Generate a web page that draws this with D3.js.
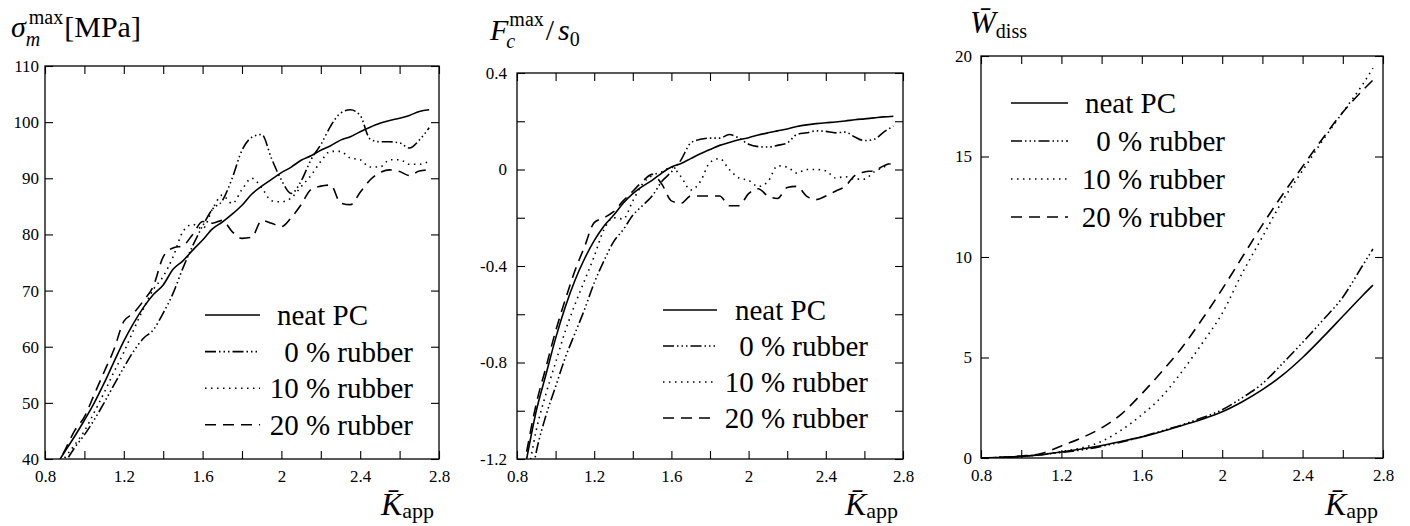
<!DOCTYPE html>
<html>
<head>
<meta charset="utf-8">
<script src="https://cdn.jsdelivr.net/npm/d3@7"></script>
<style>
  body { margin: 0; background: #fff; }
</style>
</head>
<body>
<svg id="chart" width="1410" height="526"></svg>
<script>
// ---- data ----
const seriesNames = ["neat PC", "0 % rubber", "10 % rubber", "20 % rubber"];

const kApp = [0.85, 0.90, 0.95, 1.00, 1.05, 1.10, 1.15, 1.20, 1.25, 1.30, 1.35, 1.40, 1.45,
  1.50, 1.55, 1.60, 1.65, 1.70, 1.75, 1.80, 1.85, 1.90, 1.95, 2.00, 2.05, 2.10, 2.15,
  2.20, 2.25, 2.30, 2.35, 2.40, 2.45, 2.50, 2.55, 2.60, 2.65, 2.70, 2.75];

// sigma_m^max [MPa]
const sigmaNeat = [38.5, 41.3, 44, 46.9, 50, 53.5, 57.3, 61, 64.2, 67, 69.3, 71, 73.8,
  75.3, 77.2, 79, 81, 82.2, 83.6, 85.2, 87.2, 88.6, 89.8, 91, 92, 93.2, 94,
  95, 95.8, 96.8, 97.4, 98.3, 99.1, 99.8, 100.3, 100.7, 101.2, 101.9, 102.2];
const sigma0 = [36, 39.2, 42, 44.3, 47, 50, 53.2, 56.3, 59.2, 61.5, 63, 66, 69.5,
  74, 78, 81.5, 84.5, 86, 90, 95, 97.3, 97.8, 93.5, 89.7, 87.3, 89.5, 93.3,
  96, 99.3, 101.6, 102.2, 101.2, 97, 96.5, 96.5, 96.3, 95.4, 96.8, 99];
const sigma10 = [37.5, 40.2, 42.5, 45, 48.3, 51.8, 55.5, 59, 63, 66.8, 70.2, 72.5, 76,
  80.5, 81.8, 81, 84.5, 87, 85.5, 88, 90, 88.3, 86, 85.8, 86.5, 88.5, 90.5,
  93, 94.8, 94.8, 93.6, 93.3, 92, 92, 93.3, 93.3, 92.5, 92.5, 93];
const sigma20 = [38, 41.5, 45, 47.5, 51.5, 55.5, 59.5, 64.5, 66, 68.2, 70.8, 76, 77.6,
  78, 80, 82.3, 82, 82.5, 80.5, 79.3, 79.5, 82.5, 82, 81.4, 83, 85.3, 88,
  88.6, 88.8, 85.6, 85.3, 87.5, 89.7, 91, 91.5, 91.2, 90.5, 91.3, 91.5];

// F_c^max / s_0
const forceNeat = [-1.2, -1.0, -0.85, -0.7, -0.57, -0.46, -0.37, -0.295, -0.235, -0.19, -0.14, -0.1, -0.07,
  -0.045, -0.015, 0.01, 0.025, 0.045, 0.065, 0.083, 0.1, 0.112, 0.123, 0.132, 0.143, 0.152, 0.16,
  0.168, 0.178, 0.185, 0.19, 0.194, 0.197, 0.201, 0.206, 0.21, 0.214, 0.218, 0.221];
const force0 = [-1.4, -1.17, -1.02, -0.9, -0.78, -0.68, -0.58, -0.47, -0.38, -0.3, -0.25, -0.19, -0.15,
  -0.11, -0.05, -0.01, 0.04, 0.11, 0.125, 0.13, 0.13, 0.145, 0.13, 0.105, 0.095, 0.093, 0.1,
  0.11, 0.145, 0.152, 0.16, 0.158, 0.152, 0.155, 0.135, 0.12, 0.125, 0.155, 0.18];
const force10 = [-1.3, -1.08, -0.93, -0.8, -0.67, -0.56, -0.46, -0.36, -0.25, -0.2, -0.205, -0.13, -0.06,
  -0.025, -0.01, 0.01, -0.03, -0.085, -0.05, 0.03, 0.045, 0.0, -0.035, -0.045, -0.07, -0.05, 0.015,
  0.01, -0.015, 0.0, 0.0, -0.005, -0.035, -0.03, -0.04, -0.04, -0.01, 0.01, 0.03];
const force20 = [-1.17, -0.97, -0.82, -0.67, -0.54, -0.42, -0.32, -0.22, -0.2, -0.175, -0.13, -0.09, -0.05,
  -0.02, -0.06, -0.13, -0.14, -0.11, -0.11, -0.11, -0.11, -0.15, -0.15, -0.1, -0.08, -0.11, -0.12,
  -0.075, -0.07, -0.11, -0.125, -0.11, -0.09, -0.07, -0.025, -0.01, -0.005, 0.015, 0.03];

// W_diss
const kAppW = [0.8, 0.9, 1.0, 1.1, 1.2, 1.3, 1.4, 1.5, 1.6, 1.7, 1.8, 1.9, 2.0, 2.1, 2.2,
  2.3, 2.4, 2.5, 2.6, 2.7, 2.75];
const wNeat = [0, 0.03, 0.08, 0.17, 0.3, 0.45, 0.62, 0.83, 1.05, 1.32, 1.62, 1.93, 2.3, 2.8, 3.4,
  4.12, 5.0, 6.0, 7.05, 8.1, 8.6];
const w0 = [0, 0.03, 0.08, 0.16, 0.28, 0.4, 0.58, 0.8, 1.05, 1.35, 1.65, 2.0, 2.4, 3.0, 3.7,
  4.7, 5.75, 6.85, 8.0, 9.6, 10.4];
const w10 = [0, 0.03, 0.08, 0.17, 0.32, 0.5, 0.83, 1.4, 2.15, 3.06, 4.3, 5.7, 7.2, 9.2, 11.0,
  12.8, 14.3, 15.8, 17.2, 18.6, 19.4];
const w20 = [0, 0.03, 0.1, 0.22, 0.6, 1.0, 1.5, 2.2, 3.2, 4.3, 5.5, 6.9, 8.4, 10.0, 11.6,
  13.1, 14.5, 15.9, 17.2, 18.3, 18.8];

// ticks
const xTicks = [0.8, 1.0, 1.2, 1.4, 1.6, 1.8, 2.0, 2.2, 2.4, 2.6, 2.8];
const xTickLabels = ["0.8", "", "1.2", "", "1.6", "", "2", "", "2.4", "", "2.8"];
const sigmaTicks = [40, 50, 60, 70, 80, 90, 100, 110];
const sigmaTickLabels = ["40", "50", "60", "70", "80", "90", "100", "110"];
const forceTicks = [-1.2, -1.0, -0.8, -0.6, -0.4, -0.2, 0, 0.2, 0.4];
const forceTickLabels = ["-1.2", "", "-0.8", "", "-0.4", "", "0", "", "0.4"];
const wTicks = [0, 5, 10, 15, 20];
const wTickLabels = ["0", "5", "10", "15", "20"];

// ---- font: first serif face that is really installed ----
function pickFont(list) {
  const ctx = document.createElement("canvas").getContext("2d");
  const sample = "neat PC 10 % rubber WKmMx";
  const bases = ["monospace", "sans-serif"];
  const w = f => { ctx.font = "40px " + f; return ctx.measureText(sample).width; };
  for (const name of list) {
    if (bases.some(b => w(`"${name}", ${b}`) !== w(b))) return name;
  }
  return null;
}
const serifFace = pickFont(["Liberation Serif", "Times New Roman", "Tinos", "Nimbus Roman",
  "FreeSerif", "DejaVu Serif", "Noto Serif"]);
const fontStack = (serifFace ? `"${serifFace}", ` : "") + "serif";

// ---- drawing ----
const svg = d3.select("#chart").style("font-family", fontStack);
const dashes = ["none", "11,3,1.5,3,1.5,3,1.5,3", "1.5,4.5", "11,7"];

// math-like labels: each part is placed at x, or right after an earlier part
function addText(g, parts) {
  const nodes = [];
  parts.forEach(p => {
    const t = g.append("text")
      .attr("y", p.y)
      .style("font-family", fontStack)
      .style("font-size", p.size + "px")
      .style("font-style", p.italic ? "italic" : "normal")
      .text(p.t);
    let x = p.x;
    if (p.after !== undefined) {
      const prev = nodes[p.after];
      x = prev.x + prev.node.getComputedTextLength() + (p.dx || 0);
    }
    t.attr("x", x);
    nodes.push({ x, node: t.node() });
  });
}

function drawPanel(p) {
  const x = d3.scaleLinear().domain([0.8, 2.8]).range([p.left, p.right]);
  const y = d3.scaleLinear().domain(p.yDomain).range([p.bottom, p.top]);
  const g = svg.append("g");

  const clipId = "clip" + p.id;
  svg.append("clipPath").attr("id", clipId)
    .append("rect")
    .attr("x", p.left).attr("y", p.top)
    .attr("width", p.right - p.left).attr("height", p.bottom - p.top);

  const line = d3.line()
    .x((d, i) => x(p.xs[i]))
    .y(d => y(d))
    .curve(d3.curveMonotoneX);

  g.selectAll("path.curve")
    .data(p.series)
    .join("path")
    .attr("class", "curve")
    .attr("clip-path", `url(#${clipId})`)
    .attr("d", d => line(d))
    .attr("fill", "none")
    .attr("stroke", "#000")
    .attr("stroke-width", 1.6)
    .attr("stroke-dasharray", (d, i) => dashes[i]);

  // axes, ticks pointing inward
  const styleAxis = sel => {
    sel.attr("font-family", fontStack).attr("font-size", 17);
    sel.select(".domain").remove();
    sel.selectAll("line").attr("stroke", "#000").attr("stroke-width", 1.1);
    sel.selectAll("text").attr("fill", "#000");
  };

  g.append("g").attr("transform", `translate(0,${p.bottom})`)
    .call(d3.axisBottom(x).tickValues(xTicks).tickSize(-8).tickPadding(11)
      .tickFormat((d, i) => xTickLabels[i]))
    .call(styleAxis);
  g.append("g").attr("transform", `translate(0,${p.top})`)
    .call(d3.axisTop(x).tickValues(xTicks).tickSize(-8).tickFormat(""))
    .call(styleAxis);
  g.append("g").attr("transform", `translate(${p.left},0)`)
    .call(d3.axisLeft(y).tickValues(p.yTicks).tickSize(-8).tickPadding(p.pad)
      .tickFormat((d, i) => p.yLabels[i]))
    .call(styleAxis);
  g.append("g").attr("transform", `translate(${p.right},0)`)
    .call(d3.axisRight(y).tickValues(p.yTicks).tickSize(-8).tickFormat(""))
    .call(styleAxis);

  g.append("rect")
    .attr("x", p.left).attr("y", p.top)
    .attr("width", p.right - p.left).attr("height", p.bottom - p.top)
    .attr("fill", "none").attr("stroke", "#000").attr("stroke-width", 1.3);

  // legend
  const leg = g.append("g");
  seriesNames.forEach((name, i) => {
    const ly = p.legY + i * p.legStep;
    leg.append("line")
      .attr("x1", p.legX0).attr("x2", p.legX1)
      .attr("y1", ly).attr("y2", ly)
      .attr("stroke", "#000").attr("stroke-width", 1.6)
      .attr("stroke-dasharray", dashes[i]);
    leg.append("text")
      .attr("x", i === 0 ? p.legNeatX : p.legEndX)
      .attr("y", ly + 10)
      .attr("text-anchor", i === 0 ? "start" : "end")
      .style("font-family", fontStack)
      .style("font-size", "29px")
      .text(name);
  });

  // titles
  addText(g, p.title);
  addText(g, [
    { t: "K\u0304", x: p.right - 58, y: 515, size: 32, italic: true },
    { t: "app", after: 0, dx: 0, y: 518, size: 22 }
  ]);
}

drawPanel({
  id: 1, left: 45, right: 439, top: 66, bottom: 459,
  yDomain: [40, 110], yTicks: sigmaTicks, yLabels: sigmaTickLabels, pad: 6,
  xs: kApp, series: [sigmaNeat, sigma0, sigma10, sigma20],
  legX0: 205, legX1: 260, legNeatX: 277, legEndX: 413, legY: 315, legStep: 36.6,
  title: [
    { t: "\u03c3", x: 11, y: 37, size: 30, italic: true },
    { t: "max", after: 0, dx: 3, y: 24, size: 20 },
    { t: "m", after: 0, dx: 0, y: 46, size: 20, italic: true },
    { t: "[MPa]", after: 1, dx: 1, y: 37, size: 30 }
  ]
});

drawPanel({
  id: 2, left: 517, right: 903, top: 73, bottom: 459,
  yDomain: [-1.2, 0.4], yTicks: forceTicks, yLabels: forceTickLabels, pad: 10,
  xs: kApp, series: [forceNeat, force0, force10, force20],
  legX0: 663, legX1: 717, legNeatX: 735, legEndX: 868, legY: 310, legStep: 36,
  title: [
    { t: "F", x: 490, y: 40, size: 30, italic: true },
    { t: "max", after: 0, dx: 1, y: 26, size: 20 },
    { t: "c", after: 0, dx: -2, y: 48, size: 20, italic: true },
    { t: "/", after: 1, dx: 2, y: 40, size: 30 },
    { t: "s", after: 3, dx: 4, y: 40, size: 30, italic: true },
    { t: "0", after: 4, dx: 0, y: 46, size: 20 }
  ]
});

drawPanel({
  id: 3, left: 981, right: 1383, top: 56, bottom: 458,
  yDomain: [0, 20], yTicks: wTicks, yLabels: wTickLabels, pad: 9,
  xs: kAppW, series: [wNeat, w0, w10, w20],
  legX0: 1011, legX1: 1068, legNeatX: 1085, legEndX: 1225, legY: 103, legStep: 38,
  title: [
    { t: "W\u0304", x: 970, y: 33, size: 31, italic: true },
    { t: "diss", after: 0, dx: 0, y: 38, size: 20 }
  ]
});
</script>
</body>
</html>
